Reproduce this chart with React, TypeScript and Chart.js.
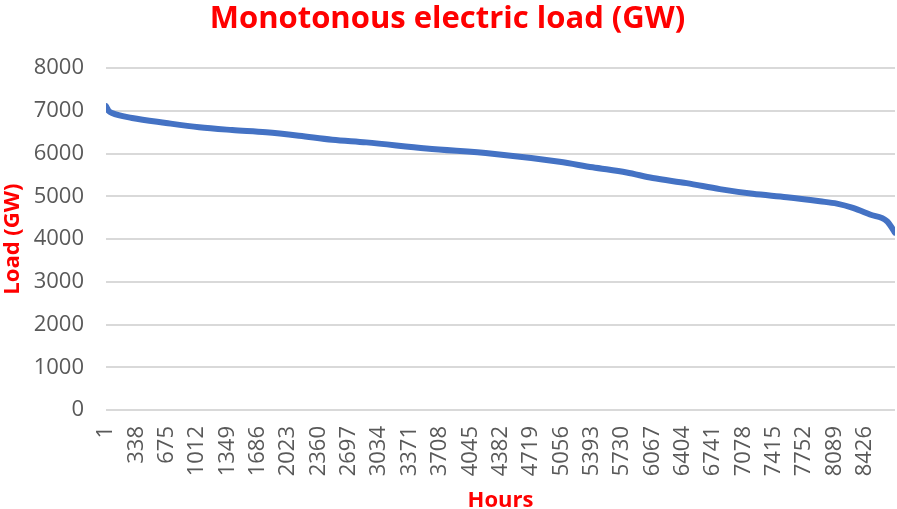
import React, { useEffect, useRef } from "react";
import { Chart, registerables } from "chart.js";

Chart.register(...registerables);

const TITLE = "Monotonous electric load (GW)";
const X_TITLE = "Hours";
const Y_TITLE = "Load (GW)";

// hours at which the curve was read
const HOURS = [1, 30, 68, 290, 668, 1035, 1402, 1779, 2146, 2513, 2891, 3558, 4291, 5036, 5403, 5781, 6070, 6448, 6815, 7181, 7559, 7926, 8115, 8293, 8482, 8671, 8738, 8760];
// load values (GW)
const LOAD = [7110, 7000, 6950, 6836, 6718, 6617, 6553, 6500, 6420, 6326, 6264, 6120, 6000, 5810, 5680, 5560, 5430, 5310, 5170, 5060, 4980, 4885, 4830, 4730, 4575, 4420, 4225, 4150];

const X_TICKS = [1, 338, 675, 1012, 1349, 1686, 2023, 2360, 2697, 3034, 3371, 3708, 4045, 4382, 4719, 5056, 5393, 5730, 6067, 6404, 6741, 7078, 7415, 7752, 8089, 8426];
const Y_TICKS = [0, 1000, 2000, 3000, 4000, 5000, 6000, 7000, 8000];

export default function App() {
  const ref = useRef<HTMLCanvasElement | null>(null);
  useEffect(() => {
    if (!ref.current) return;
    const chart = new Chart(ref.current, {
      type: "line",
      data: {
        datasets: [
          {
            data: HOURS.map((h, i) => ({ x: h, y: LOAD[i] })),
            borderColor: "#4472C4",
            backgroundColor: "#4472C4",
            borderWidth: 6,
            pointRadius: 0,
            borderCapStyle: "round",
            borderJoinStyle: "round",
            cubicInterpolationMode: "monotone",
          },
        ],
      },
      options: {
        animation: false,
        responsive: true,
        maintainAspectRatio: false,
        layout: { padding: { left: 0, right: 2, top: 0, bottom: 0 } },
        plugins: {
          legend: { display: false },
          tooltip: { enabled: false },
          title: {
            display: true,
            text: TITLE,
            color: "#FF0000",
            font: { family: "'Open Sans'", size: 31, weight: "bold" },
            padding: { top: 1, bottom: 30 },
          },
        },
        scales: {
          x: {
            type: "linear",
            min: 1,
            max: 8760,
            afterBuildTicks: (scale: any) => {
              scale.ticks = X_TICKS.map((v) => ({ value: v }));
            },
            afterFit: (scale: any) => {
              scale.height = 99;
              scale.paddingLeft = 0;
              scale.paddingRight = 0;
            },
            grid: { display: false, drawTicks: false },
            border: { display: false },
            ticks: {
              autoSkip: false,
              maxRotation: 90,
              minRotation: 90,
              padding: 16,
              color: "#595959",
              font: { family: "'Open Sans'", size: 22 },
              callback: (v: any) => String(v),
            },
            title: {
              display: true,
              text: X_TITLE,
              color: "#FF0000",
              font: { family: "'Open Sans'", size: 22, weight: "bold" },
              padding: { top: 0, bottom: -5 },
            },
          },
          y: {
            min: 0,
            max: 8000,
            afterBuildTicks: (scale: any) => {
              scale.ticks = Y_TICKS.map((v) => ({ value: v }));
            },
            afterFit: (scale: any) => {
              scale.width = 106;
            },
            grid: { color: "#d9d9d9", lineWidth: 2, drawTicks: false },
            border: { display: false },
            ticks: {
              padding: 22,
              color: "#595959",
              font: { family: "'Open Sans'", size: 22 },
              callback: (v: any) => String(v),
            },
            title: {
              display: true,
              text: Y_TITLE,
              color: "#FF0000",
              font: { family: "'Open Sans'", size: 22, weight: "bold" },
              padding: { top: 0, bottom: 0 },
            },
          },
        },
      },
    });
    return () => chart.destroy();
  }, []);
  return (
    <div style={{ position: "absolute", left: 0, top: 0, width: 897, height: 509, background: "#fff" }}>
      <canvas ref={ref} />
    </div>
  );
}
